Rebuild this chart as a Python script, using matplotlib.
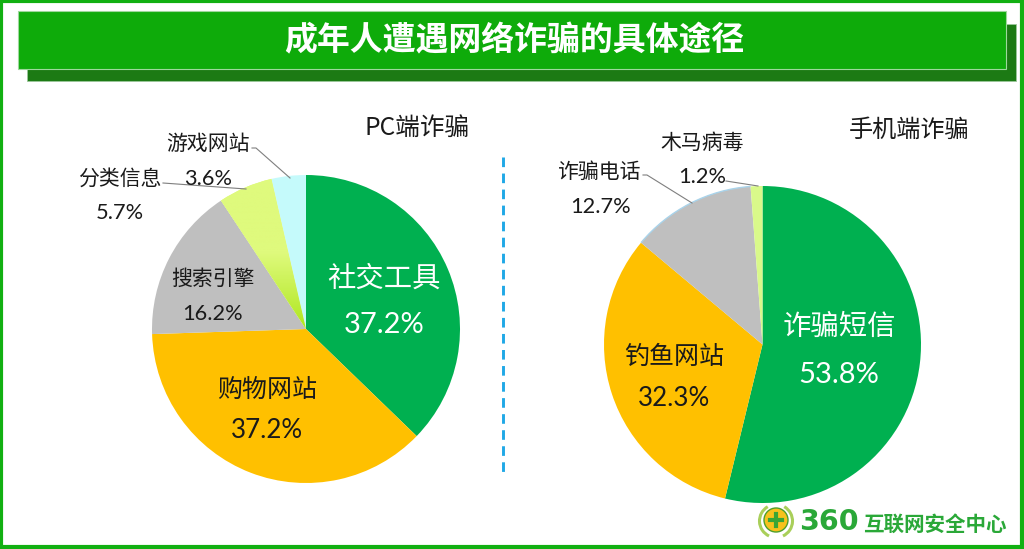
import numpy as np
import matplotlib
matplotlib.use('Agg')
import matplotlib.pyplot as plt
from matplotlib.patches import Rectangle, Circle, Arc
from matplotlib.colors import LinearSegmentedColormap

plt.rcParams['font.family'] = ['Noto Sans CJK SC', 'DejaVu Sans']

title = '成年人遭遇网络诈骗的具体途径'
pc_title = 'PC端诈骗'
mobile_title = '手机端诈骗'
pc_labels = ['社交工具', '购物网站', '搜索引擎', '分类信息', '游戏网站']
pc_values = [37.2, 37.2, 16.2, 5.7, 3.6]
pc_colors = ['#00b050', '#ffc000', '#bfbfbf', '#dffa7d', '#c5fafb']
mobile_labels = ['诈骗短信', '钓鱼网站', '诈骗电话', '木马病毒']
mobile_values = [53.8, 32.3, 12.7, 1.2]
mobile_colors = ['#00b050', '#ffc000', '#bfbfbf', '#d9f98a']
logo_text = '互联网安全中心'

W, H = 1024, 549
fig = plt.figure(figsize=(W / 100, H / 100), dpi=100, facecolor='white')

# full figure axes in pixel coords for frame, titles, labels
bg = fig.add_axes([0, 0, 1, 1])
bg.set_xlim(0, W)
bg.set_ylim(H, 0)
bg.axis('off')


def pie_axes(cx, cy, r, vals, cols):
    ax = fig.add_axes([(cx - r) / W, 1 - (cy + r) / H, 2 * r / W, 2 * r / H])
    wedges, _ = ax.pie(vals, colors=cols, startangle=90, counterclock=False,
                       radius=1, center=(0, 0), wedgeprops={'linewidth': 0})
    ax.set_xlim(-1, 1)
    ax.set_ylim(-1, 1)
    ax.axis('off')
    return ax, wedges


# frame and title bar
bg.add_patch(Rectangle((1, 1), W - 3, H - 3, fill=False, ec='#12b012', lw=3))
bg.add_patch(Rectangle((27, 24), 989, 57, fc='#1c7a14', ec='#9cc79c', lw=0.6))
bg.add_patch(Rectangle((18, 11), 988, 58, fc='#0eab0a', ec='#9ed89c', lw=0.8))
bg.text(514, 41, title, color='white', fontsize=23.7, fontweight='bold', ha='center', va='center')

# divider
bg.plot([503, 503], [157, 476], color='#1fa8e6', lw=2.1, ls=(0, (3.3, 2.2)), dash_capstyle='butt')

# pies
ax1, w1 = pie_axes(306, 329, 154, pc_values, pc_colors)
ax2, w2 = pie_axes(762.5, 344.5, 158.5, mobile_values, mobile_colors)

# yellow-green wedge fades towards the centre of the pie
grad = LinearSegmentedColormap.from_list('g', ['#dffa7d', '#dffa7d', '#aee61e'])
img = ax1.imshow(np.linspace(0, 1, 256).reshape(-1, 1), cmap=grad, extent=(-1, 1, 0, 1),
                 aspect='auto', origin='upper', zorder=3)
img.set_clip_path(w1[3])
ax1.set_xlim(-1, 1)
ax1.set_ylim(-1, 1)

# thin pale blue edge on the grey slice of the right pie
th2 = 90 - 3.6 * sum(mobile_values[:2])
th1 = 90 - 3.6 * sum(mobile_values[:3])
ax2.add_patch(Arc((0, 0), 2, 2, theta1=th1, theta2=th2, ec='#a9d3ea', lw=1, clip_on=False))

# overlay for the text on top of the pies
top = fig.add_axes([0, 0, 1, 1], facecolor='none')
top.set_xlim(0, W)
top.set_ylim(H, 0)
top.axis('off')

dark = '#1a1a1a'
top.text(417, 128, pc_title, fontsize=17.7, ha='center', va='center', color=dark)
top.text(909, 130, mobile_title, fontsize=17.4, ha='center', va='center', color=dark)


def label(x, y, name, value, size, color, y2, psize):
    top.text(x, y, name, fontsize=size, ha='center', va='center', color=color)
    top.text(x, y2, f'{value}%', fontsize=psize, ha='center', va='center', color=color,
             family=['Lato', 'DejaVu Sans'])


label(384, 279, pc_labels[0], pc_values[0], 20.4, 'white', 325, 21)
label(267, 390, pc_labels[1], pc_values[1], 18, dark, 431, 18.7)
label(213, 279, pc_labels[2], pc_values[2], 15, dark, 314, 15.7)
label(120, 179, pc_labels[3], pc_values[3], 15, dark, 213, 15.7)
label(208, 144, pc_labels[4], pc_values[4], 15, dark, 179, 15.7)
label(839, 327, mobile_labels[0], mobile_values[0], 20.4, 'white', 375, 21)
label(674, 357, mobile_labels[1], mobile_values[1], 18, dark, 398, 18.7)
label(600, 172, mobile_labels[2], mobile_values[2], 15, dark, 207, 15.7)
label(702, 143, mobile_labels[3], mobile_values[3], 15, dark, 177, 15.7)

# leader lines
for xs, ys in [([252, 256, 290], [148, 148, 178]),
               ([163, 246], [183, 189]),
               ([643, 647, 692], [175, 175, 203]),
               ([726, 758], [181, 186])]:
    top.plot(xs, ys, color='#7f7f7f', lw=0.8)

# logo
for t1, t2 in [(-60, 65), (115, 240)]:
    top.add_patch(Arc((776, 521), 33, 33, theta1=t1, theta2=t2, ec='#a9cf5a', lw=2.2))
top.add_patch(Circle((776, 520), 12, fc='#f7c21c', ec='#4f9f2a', lw=1))
top.plot([770, 782], [520, 520], color='#3aa535', lw=3)
top.plot([776, 776], [514, 526], color='#3aa535', lw=3)
top.text(829, 522, '360', fontsize=20.5, fontweight='bold', color='#2aa838', ha='center', va='center',
         family='DejaVu Sans')
top.text(934.5, 524, logo_text, fontsize=14.8, fontweight='bold', color='#2aa838', ha='center', va='center')

fig.savefig('out.png', dpi=100)
